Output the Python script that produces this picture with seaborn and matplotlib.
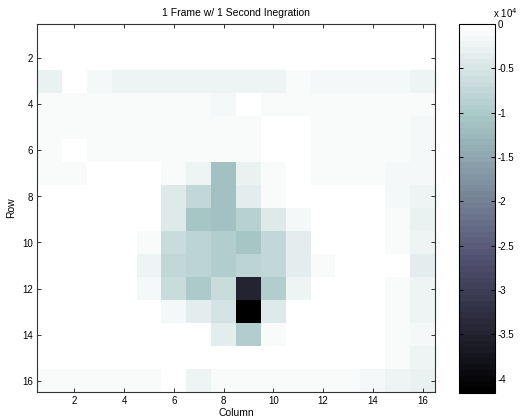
import numpy as np
import pandas as pd
import seaborn as sns
import matplotlib.pyplot as plt

# === DANE (wartości w jednostkach x 10^4) ===
columns = list(range(1, 17))
rows = list(range(1, 17))

row01 = [0.00] * 16
row02 = [0.00] * 16
row03 = [-0.30, 0.00, -0.15, -0.25, -0.25, -0.25, -0.25, -0.25, -0.22, -0.22, -0.10, -0.18, -0.18, -0.18, -0.18, -0.25]
row04 = [-0.08, -0.08, -0.08, -0.08, -0.08, -0.08, -0.08, -0.18, 0.00, -0.08, -0.08, -0.08, -0.08, -0.08, -0.08, -0.12]
row05 = [-0.08, -0.08, -0.08, -0.08, -0.08, -0.08, -0.08, -0.08, -0.08, 0.00, 0.00, -0.08, -0.08, -0.08, -0.08, -0.18]
row06 = [-0.08, 0.00, -0.08, -0.08, -0.08, -0.08, -0.08, -0.08, -0.08, 0.00, 0.00, -0.08, -0.08, -0.08, -0.08, -0.18]
row07 = [-0.08, -0.10, 0.00, 0.00, -0.05, -0.08, -0.20, -1.15, -0.30, -0.10, 0.00, -0.08, -0.08, -0.08, -0.15, -0.18]
row08 = [-0.06, -0.06, 0.00, 0.00, -0.05, -0.40, -0.75, -1.15, -0.35, -0.08, 0.00, -0.06, -0.06, -0.06, -0.15, -0.20]
row09 = [-0.06, 0.00, 0.00, 0.00, -0.05, -0.40, -1.10, -1.15, -0.85, -0.40, -0.15, -0.06, -0.06, -0.06, -0.08, -0.30]
row10 = [-0.06, -0.06, 0.00, 0.00, -0.12, -0.70, -0.80, -0.95, -1.05, -0.75, -0.35, 0.00, -0.06, -0.06, -0.08, -0.25]
row11 = [-0.06, -0.06, 0.00, 0.00, -0.20, -0.75, -0.80, -0.95, -0.80, -0.75, -0.35, -0.12, 0.00, -0.05, 0.00, -0.35]
row12 = [-0.06, -0.06, 0.00, 0.00, -0.15, -0.70, -1.00, -0.70, -3.50, -0.95, -0.25, -0.05, -0.05, -0.05, -0.07, -0.20]
row13 = [-0.06, -0.06, 0.00, 0.00, -0.05, -0.15, -0.35, -0.55, -4.16, -0.40, -0.05, -0.05, -0.05, -0.05, -0.07, -0.20]
row14 = [-0.06, -0.06, -0.06, 0.00, 0.00, 0.00, -0.04, -0.35, -0.95, -0.12, -0.05, 0.00, -0.05, -0.05, -0.07, -0.15]
row15 = [-0.05, 0.00, 0.00, 0.00, 0.00, -0.04, 0.00, -0.04, -0.04, 0.00, -0.05, -0.05, 0.00, -0.06, -0.12, -0.20]
row16 = [-0.12, -0.12, -0.12, -0.12, -0.12, 0.00, -0.25, -0.12, -0.12, -0.12, -0.12, -0.12, -0.12, -0.15, -0.20, -0.30]

cbar_ticks = [0, -0.5, -1, -1.5, -2, -2.5, -3, -3.5, -4]
cbar_labels = ["0", "-0.5", "-1", "-1.5", "-2", "-2.5", "-3", "-3.5", "-4"]
x_ticks = [2, 4, 6, 8, 10, 12, 14, 16]
y_ticks = [2, 4, 6, 8, 10, 12, 14, 16]

VMIN, VMAX = -4.16, 0.0

df = pd.DataFrame([row01, row02, row03, row04, row05, row06, row07, row08,
                   row09, row10, row11, row12, row13, row14, row15, row16],
                  index=rows, columns=columns)

# === WYKRES ===
plt.rcParams["font.family"] = ["Liberation Sans", "DejaVu Sans"]
plt.rcParams["axes.unicode_minus"] = False

W, H = 520, 419
fig = plt.figure(figsize=(W / 100, H / 100), dpi=100)
ax = fig.add_axes([37 / W, 1 - 392 / H, 398 / W, 368 / H])
cax = fig.add_axes([459 / W, 1 - 393 / H, 36 / W, 369 / H])

sns.heatmap(df, ax=ax, cbar_ax=cax, cmap=plt.get_cmap("bone", 64),
            vmin=VMIN, vmax=VMAX, xticklabels=False, yticklabels=False)

for s in ax.spines.values():
    s.set_visible(True)
    s.set_linewidth(0.8)
    s.set_color("#333333")

ax.set_xticks([c - 0.5 for c in x_ticks])
ax.set_xticklabels([str(c) for c in x_ticks], rotation=0)
ax.set_yticks([r - 0.5 for r in y_ticks])
ax.set_yticklabels([str(r) for r in y_ticks], rotation=0)
ax.tick_params(direction="in", top=True, right=True, length=3, width=0.7,
               labelsize=7, pad=3, color="#333333")
ax.set_xlabel("Column", fontsize=7.5, labelpad=1)
ax.set_ylabel("Row", fontsize=7.5, labelpad=4)
ax.set_title("1 Frame w/ 1 Second Inegration", fontsize=7.5, pad=6)

cbar = ax.collections[0].colorbar
cbar.set_ticks(cbar_ticks)
cbar.set_ticklabels(cbar_labels)
cbar.outline.set_edgecolor("black")
cbar.outline.set_linewidth(0.8)
cax.tick_params(direction="in", left=True, right=True, length=3, width=0.7,
                labelsize=7, pad=2)
fig.text(493 / W, 1 - 18 / H, r"x 10$^4$", fontsize=7)

fig.savefig("out.png", dpi=100)
